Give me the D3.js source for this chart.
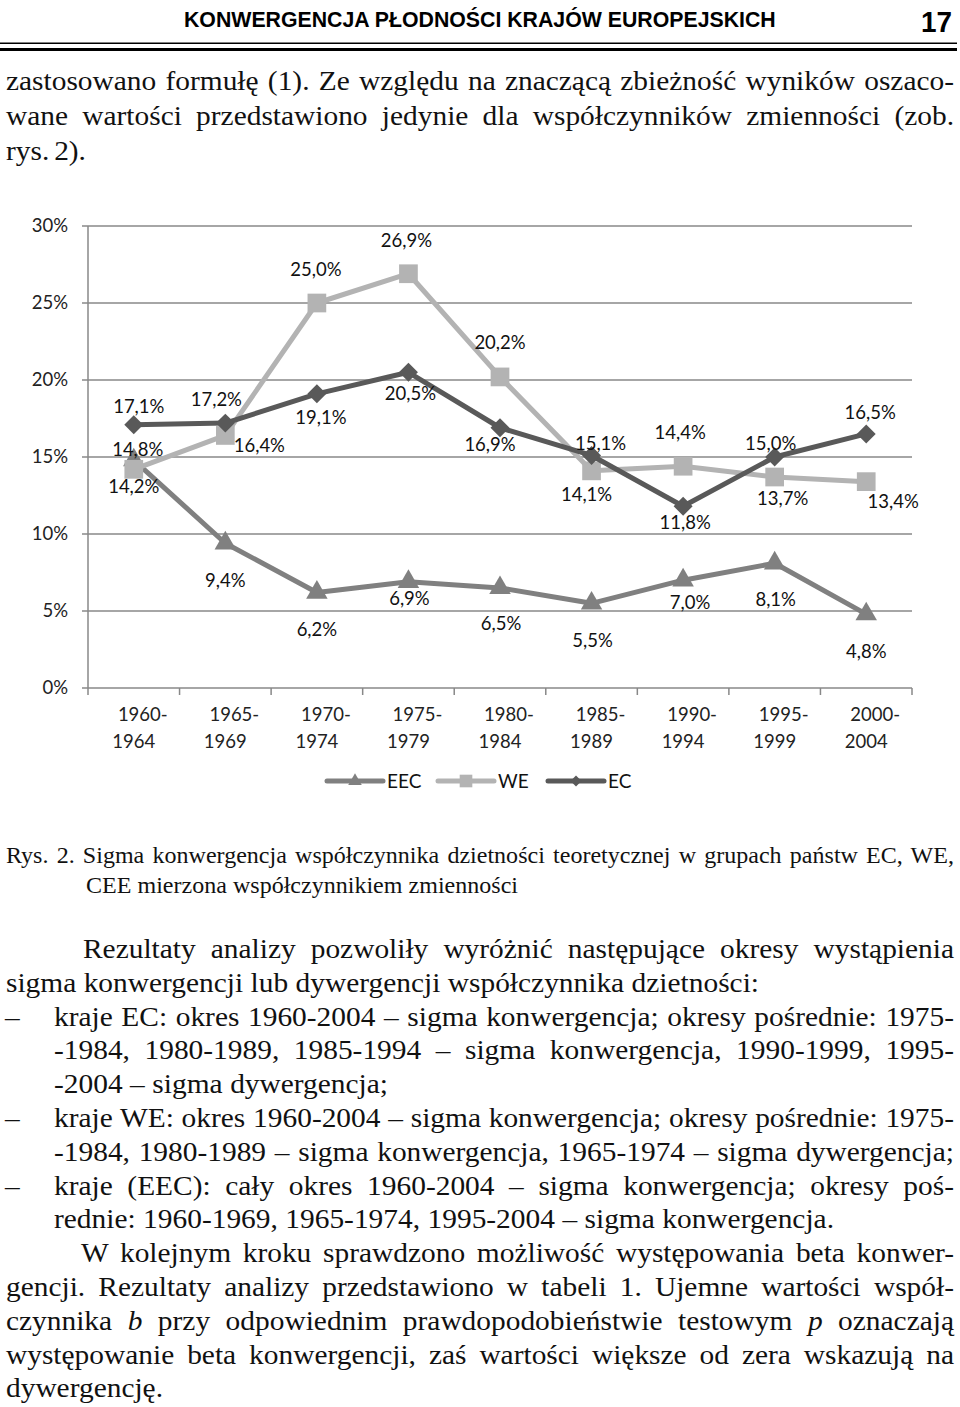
<!DOCTYPE html>
<html>
<head>
<meta charset="utf-8">
<script src="https://cdn.jsdelivr.net/npm/d3@7"></script>
<style>
  body { margin: 0; background: #fff; }
  svg { display: block; }
</style>
</head>
<body>
<div id="page"></div>
<script>
// Rys. 2 (coefficient of variation, %)
var categories = ["1960-1964", "1965-1969", "1970-1974", "1975-1979", "1980-1984",
                  "1985-1989", "1990-1994", "1995-1999", "2000-2004"];
var eecValues = [14.8, 9.4, 6.2, 6.9, 6.5, 5.5, 7.0, 8.1, 4.8];
var weValues  = [14.2, 16.4, 25.0, 26.9, 20.2, 14.1, 14.4, 13.7, 13.4];
var ecValues  = [17.1, 17.2, 19.1, 20.5, 16.9, 15.1, 11.8, 15.0, 16.5];
var yTicks = [0, 5, 10, 15, 20, 25, 30];
var seriesNames = ["EEC", "WE", "EC"];

// label nudges (px) relative to each marker, as placed in the original
var eecLabelPos = [[4,-11],[0,37],[0,37],[1,17],[1,36],[1,37],[7,22],[1,36],[0,37]];
var weLabelPos  = [[0,17],[34,10],[-1,-33],[-2,-33],[0,-34],[-5,24],[-3,-34],[8,22],[27,20]];
var ecLabelPos  = [[5,-18],[-9,-24],[4,24],[2,21],[-10,17],[9,-12],[2,16],[-4,-13],[4,-21]];

var W = 960, H = 1407;
var svg = d3.select("#page").append("svg")
    .attr("width", W)
    .attr("height", H)
    .attr("viewBox", [0, 0, W, H]);

var serif = "'Liberation Serif', 'Times New Roman', serif";
var sans = "'Liberation Sans', Arial, sans-serif";

// how much to squeeze a font horizontally so that a string gets a given width
function squeeze(str, width, size, family, weight) {
  var probe = svg.append("text")
      .attr("font-family", family).attr("font-size", size)
      .attr("font-weight", weight || "normal")
      .text(str);
  var k = width / probe.node().getComputedTextLength();
  probe.remove();
  return k;
}

// ---------- running head ----------
var headTitle = "KONWERGENCJA PŁODNOŚCI KRAJÓW EUROPEJSKICH";
var kh = squeeze(headTitle, 592, 22, sans, "bold");
svg.append("g").attr("transform", "scale(" + kh + ",1)")
  .append("text")
    .attr("x", 184 / kh).attr("y", 27)
    .attr("font-family", sans).attr("font-weight", "bold").attr("font-size", 22)
    .attr("fill", "#000")
    .text(headTitle);

var kp = squeeze("17", 31, 30, sans, "bold");
svg.append("g").attr("transform", "scale(" + kp + ",1)")
  .append("text")
    .attr("x", 921 / kp).attr("y", 32)
    .attr("font-family", sans).attr("font-weight", "bold").attr("font-size", 30)
    .attr("fill", "#000")
    .text("17");

svg.append("rect").attr("x", 0).attr("y", 42.5).attr("width", 957).attr("height", 1.5).attr("fill", "#000");
svg.append("rect").attr("x", 0).attr("y", 48).attr("width", 957).attr("height", 3).attr("fill", "#000");

// ---------- body text helper ----------
// each line: [segments, x, width, baseline]; a segment is a string or {i: "italic text"}
// lines are justified through word-spacing inside a horizontally squeezed group
function writeLines(lines, size, k, dashYs) {
  var g = svg.append("g").attr("transform", "scale(" + k + ",1)");
  lines.forEach(function (ln) {
    var segs = [].concat(ln[0]);
    var t = g.append("text")
        .attr("x", ln[1] / k).attr("y", ln[3])
        .attr("font-family", serif).attr("font-size", size)
        .attr("fill", "#111");
    segs.forEach(function (seg) {
      if (typeof seg === "string") t.append("tspan").text(seg);
      else t.append("tspan").attr("font-style", "italic").text(seg.i);
    });
    var full = segs.map(function (s) { return typeof s === "string" ? s : s.i; }).join("");
    var spaces = (full.match(/ /g) || []).length;
    var nat = t.node().getComputedTextLength();
    if (spaces) t.attr("word-spacing", (ln[2] / k - nat) / spaces);
  });
  (dashYs || []).forEach(function (y) {
    g.append("text").attr("x", 5 / k).attr("y", y)
        .attr("font-family", serif).attr("font-size", size).attr("fill", "#111")
        .text("–");
  });
}

var bodySize = 28;
var kb = squeeze("sigma konwergencji lub dywergencji współczynnika dzietności:", 753, bodySize, serif);

writeLines([
  ["zastosowano formułę (1). Ze względu na znaczącą zbieżność wyników oszaco-", 6, 948, 90],
  ["wane wartości przedstawiono jedynie dla współczynników zmienności (zob.", 6, 948, 125],
  ["rys. 2).", 6, 80, 160]
], bodySize, kb);

// ---------- chart ----------
var plot = { left: 88, right: 912, top: 226, bottom: 688 };
var chartFont = "Lato, 'Open Sans', sans-serif";

var x = d3.scaleBand()
    .domain(categories)
    .range([plot.left, plot.right]);

var y = d3.scaleLinear()
    .domain([0, 30])
    .range([plot.bottom, plot.top]);

var fmt = function (v) { return d3.format(".1f")(v).replace(".", ",") + "%"; };
var cx = function (c) { return x(c) + x.bandwidth() / 2; };

// horizontal gridlines (incl. the 0% axis), with short ticks left of the axis
svg.append("g")
    .attr("stroke", "#888")
    .attr("stroke-width", 1.5)
  .selectAll("line")
  .data(yTicks)
  .join("line")
    .attr("x1", plot.left - 6)
    .attr("x2", plot.right)
    .attr("y1", function (d) { return y(d); })
    .attr("y2", function (d) { return y(d); });

// vertical axis line
svg.append("line")
    .attr("x1", plot.left).attr("x2", plot.left)
    .attr("y1", y(30)).attr("y2", y(0))
    .attr("stroke", "#888").attr("stroke-width", 1.5);

// category boundary ticks below the 0% line
var bounds = categories.map(function (c) { return x(c); }).concat([plot.right]);
svg.append("g")
    .attr("stroke", "#888")
    .attr("stroke-width", 1.5)
  .selectAll("line")
  .data(bounds)
  .join("line")
    .attr("x1", function (d) { return d; })
    .attr("x2", function (d) { return d; })
    .attr("y1", y(0))
    .attr("y2", y(0) + 7);

// y tick labels
svg.append("g")
    .attr("font-family", chartFont).attr("font-size", 18.5).attr("fill", "#222")
    .attr("text-anchor", "end")
  .selectAll("text")
  .data(yTicks)
  .join("text")
    .attr("x", 68)
    .attr("y", function (d) { return y(d); })
    .attr("dy", "0.35em")
    .text(function (d) { return d + "%"; });

// category labels, wrapped after the hyphen
var catG = svg.append("g")
    .attr("font-family", chartFont).attr("font-size", 18.5).attr("fill", "#222")
    .attr("text-anchor", "middle");
categories.forEach(function (c) {
  var parts = c.split("-");
  catG.append("text").attr("x", cx(c) + 9).attr("y", 721).text(parts[0] + "-");
  catG.append("text").attr("x", cx(c)).attr("y", 748).text(parts[1]);
});

// series: drawn EEC, WE, EC so the darker line sits on top
var series = [
  { name: seriesNames[0], values: eecValues, color: "#808080", shape: "triangle", labels: eecLabelPos },
  { name: seriesNames[1], values: weValues,  color: "#b3b3b3", shape: "square",   labels: weLabelPos },
  { name: seriesNames[2], values: ecValues,  color: "#595959", shape: "diamond",  labels: ecLabelPos }
];

function markerPath(shape, big) {
  if (shape === "triangle") return d3.symbol(d3.symbolTriangle, big ? 200 : 80)();
  if (shape === "square") return d3.symbol(d3.symbolSquare, big ? 350 : 160)();
  return d3.symbol(d3.symbolSquare, big ? 180 : 60)();
}

var line = d3.line()
    .x(function (d, i) { return cx(categories[i]); })
    .y(function (d) { return y(d); });

series.forEach(function (s) {
  var g = svg.append("g");
  g.append("path")
      .datum(s.values)
      .attr("fill", "none")
      .attr("stroke", s.color)
      .attr("stroke-width", 5)
      .attr("stroke-linejoin", "round")
      .attr("d", line);
  g.selectAll(".mk")
    .data(s.values)
    .join("path")
      .attr("class", "mk")
      .attr("fill", s.color)
      .attr("d", markerPath(s.shape, true))
      .attr("transform", function (d, i) {
        return "translate(" + cx(categories[i]) + "," + y(d) + ")" +
               (s.shape === "diamond" ? " rotate(45)" : "");
      });
});

// data labels on top of everything
series.forEach(function (s) {
  svg.append("g")
      .attr("font-family", chartFont).attr("font-size", 18.5).attr("fill", "#111")
      .attr("text-anchor", "middle")
    .selectAll("text")
    .data(s.values)
    .join("text")
      .attr("x", function (d, i) { return cx(categories[i]) + s.labels[i][0]; })
      .attr("y", function (d, i) { return y(d) + s.labels[i][1]; })
      .attr("dy", "0.35em")
      .text(fmt);
});

// legend
var legendX = [327, 438, 548];
var legend = svg.append("g").attr("transform", "translate(0,781)");
series.forEach(function (s, i) {
  var lx = legendX[i];
  legend.append("line")
      .attr("x1", lx).attr("x2", lx + 56)
      .attr("y1", 0).attr("y2", 0)
      .attr("stroke", s.color).attr("stroke-width", 5).attr("stroke-linecap", "round");
  legend.append("path")
      .attr("fill", s.color)
      .attr("d", markerPath(s.shape, false))
      .attr("transform", "translate(" + (lx + 28) + ",0)" + (s.shape === "diamond" ? " rotate(45)" : ""));
  legend.append("text")
      .attr("x", lx + 60).attr("y", 0).attr("dy", "0.35em")
      .attr("font-family", chartFont).attr("font-size", 19).attr("fill", "#111")
      .text(s.name);
});

// ---------- caption ----------
var capSize = 23;
var kc = squeeze("CEE mierzona współczynnikiem zmienności", 432, capSize, serif);
writeLines([
  ["Rys. 2. Sigma konwergencja współczynnika dzietności teoretycznej w grupach państw EC, WE,", 6, 948, 863],
  ["CEE mierzona współczynnikiem zmienności", 86, 432, 893]
], capSize, kc);

// ---------- following paragraphs ----------
var b0 = 958, step = 33.8;
writeLines([
  ["Rezultaty analizy pozwoliły wyróżnić następujące okresy wystąpienia", 83, 871, b0],
  ["sigma konwergencji lub dywergencji współczynnika dzietności:", 6, 753, b0 + step],
  ["kraje EC: okres 1960-2004 – sigma konwergencja; okresy pośrednie: 1975-", 54, 900, b0 + 2 * step],
  ["-1984, 1980-1989, 1985-1994 – sigma konwergencja, 1990-1999, 1995-", 54, 900, b0 + 3 * step],
  ["-2004 – sigma dywergencja;", 54, 334, b0 + 4 * step],
  ["kraje WE: okres 1960-2004 – sigma konwergencja; okresy pośrednie: 1975-", 54, 900, b0 + 5 * step],
  ["-1984, 1980-1989 – sigma konwergencja, 1965-1974 – sigma dywergencja;", 54, 900, b0 + 6 * step],
  ["kraje (EEC): cały okres 1960-2004 – sigma konwergencja; okresy poś-", 54, 900, b0 + 7 * step],
  ["rednie: 1960-1969, 1965-1974, 1995-2004 – sigma konwergencja.", 54, 780, b0 + 8 * step],
  ["W kolejnym kroku sprawdzono możliwość występowania beta konwer-", 81, 873, b0 + 9 * step],
  ["gencji. Rezultaty analizy przedstawiono w tabeli 1. Ujemne wartości współ-", 6, 948, b0 + 10 * step],
  [["czynnika ", {i: "b"}, " przy odpowiednim prawdopodobieństwie testowym ", {i: "p"}, " oznaczają"], 6, 948, b0 + 11 * step],
  ["występowanie beta konwergencji, zaś wartości większe od zera wskazują na", 6, 948, b0 + 12 * step],
  ["dywergencję.", 6, 157, b0 + 13 * step]
], bodySize, kb, [b0 + 2 * step, b0 + 5 * step, b0 + 7 * step]);
</script>
</body>
</html>
